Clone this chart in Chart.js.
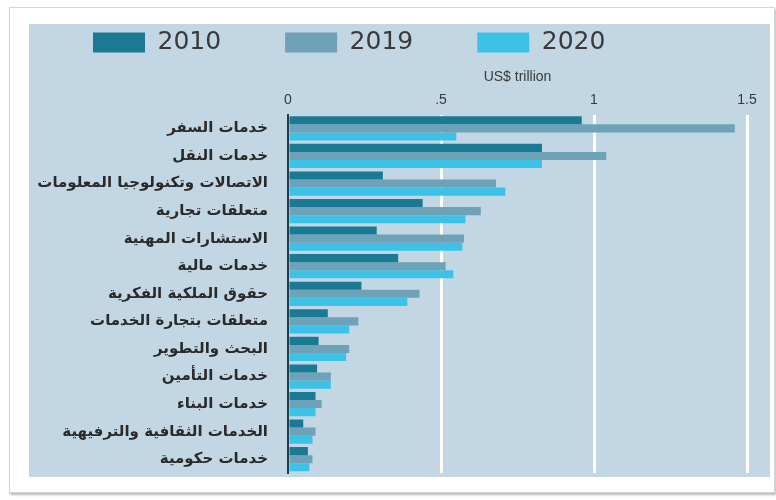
<!DOCTYPE html>
<html>
<head>
<meta charset="utf-8">
<script src="https://cdn.jsdelivr.net/npm/chart.js@4.4.0/dist/chart.umd.min.js"></script>
<style>
  html, body { margin: 0; padding: 0; background: #fff; }
  body { width: 776px; height: 500px; position: relative; overflow: hidden; }
  .frame {
    position: absolute; left: 9px; top: 7px; width: 764px; height: 484px;
    background: #fff; border: 1px solid #d6d6d6; box-shadow: 1px 2px 2px #b9b9b9;
  }
  .panel {
    position: absolute; left: 29px; top: 24px; width: 741px; height: 453px;
    background: #c3d6e3; overflow: hidden;
  }
  /* legend padding also sets the gap between items, so the canvas
     is lifted to hide the extra space above the legend */
  canvas { position: absolute; left: 0; top: -58px; }
</style>
</head>
<body>
<div class="frame"></div>
<div class="panel"><canvas id="servicesChart" width="741" height="528"></canvas></div>
<script>
// services exports by sector, US$ trillion
const sectors = [
    'خدمات السفر',
    'خدمات النقل',
    'الاتصالات وتكنولوجيا المعلومات',
    'متعلقات تجارية',
    'الاستشارات المهنية',
    'خدمات مالية',
    'حقوق الملكية الفكرية',
    'متعلقات بتجارة الخدمات',
    'البحث والتطوير',
    'خدمات التأمين',
    'خدمات البناء',
    'الخدمات الثقافية والترفيهية',
    'خدمات حكومية'
];
const years = ['2010', '2019', '2020'];
const values2010 = [0.96, 0.83, 0.31, 0.44, 0.29, 0.36, 0.24, 0.13, 0.10, 0.095, 0.09, 0.05, 0.065];
const values2019 = [1.46, 1.04, 0.68, 0.63, 0.575, 0.515, 0.43, 0.23, 0.20, 0.14, 0.11, 0.09, 0.08];
const values2020 = [0.55, 0.83, 0.71, 0.58, 0.57, 0.54, 0.39, 0.20, 0.19, 0.14, 0.09, 0.08, 0.07];
const xTicks = [0, 0.5, 1, 1.5];
const colors = ['#1b7a93', '#6ea2b8', '#3cc2e6'];

const ctx = document.getElementById('servicesChart').getContext('2d');

const datasets = [values2010, values2019, values2020].map((vals, i) => ({
    label: years[i],
    data: vals,
    backgroundColor: colors[i],
    borderWidth: 0,
    categoryPercentage: 0.88,
    barPercentage: 1.0
}));

let servicesChart = new Chart(ctx, {
    type: 'bar',
    data: { labels: sectors, datasets: datasets },
    options: {
        indexAxis: 'y',
        responsive: false,
        animation: false,
        layout: { padding: { top: 0, bottom: 0, right: 23, left: 0 } },
        plugins: {
            tooltip: { enabled: false },
            legend: {
                position: 'top',
                align: 'start',
                labels: {
                    boxWidth: 52,
                    boxHeight: 20,
                    padding: 64,
                    color: '#3a3a3a',
                    font: { family: 'DejaVu Sans', size: 25 }
                }
            }
        },
        scales: {
            x: {
                position: 'top',
                min: 0,
                max: 1.5,
                afterBuildTicks: (scale) => {
                    scale.ticks = xTicks.map(v => ({ value: v }));
                },
                ticks: {
                    color: '#3a3a3a',
                    padding: 6,
                    font: { family: 'Liberation Sans', size: 14 },
                    callback: (v) => String(v).replace(/^0\./, '.')
                },
                title: {
                    display: true,
                    text: 'US$ trillion',
                    color: '#3a3a3a',
                    padding: { top: 4, bottom: 0 },
                    font: { family: 'Liberation Sans', size: 14 }
                },
                grid: {
                    drawTicks: false,
                    color: (c) => c.index === 0 ? 'rgba(0,0,0,0)' : '#ffffff',
                    lineWidth: 3
                },
                border: { display: false }
            },
            y: {
                afterFit: (scale) => { scale.width = 259; },
                ticks: {
                    color: '#2a2a2a',
                    padding: 12,
                    font: { family: 'DejaVu Sans', size: 15, weight: 'bold' }
                },
                grid: { display: false },
                border: { display: true, color: '#1e3c4c', width: 2 }
            }
        }
    }
});
</script>
</body>
</html>
